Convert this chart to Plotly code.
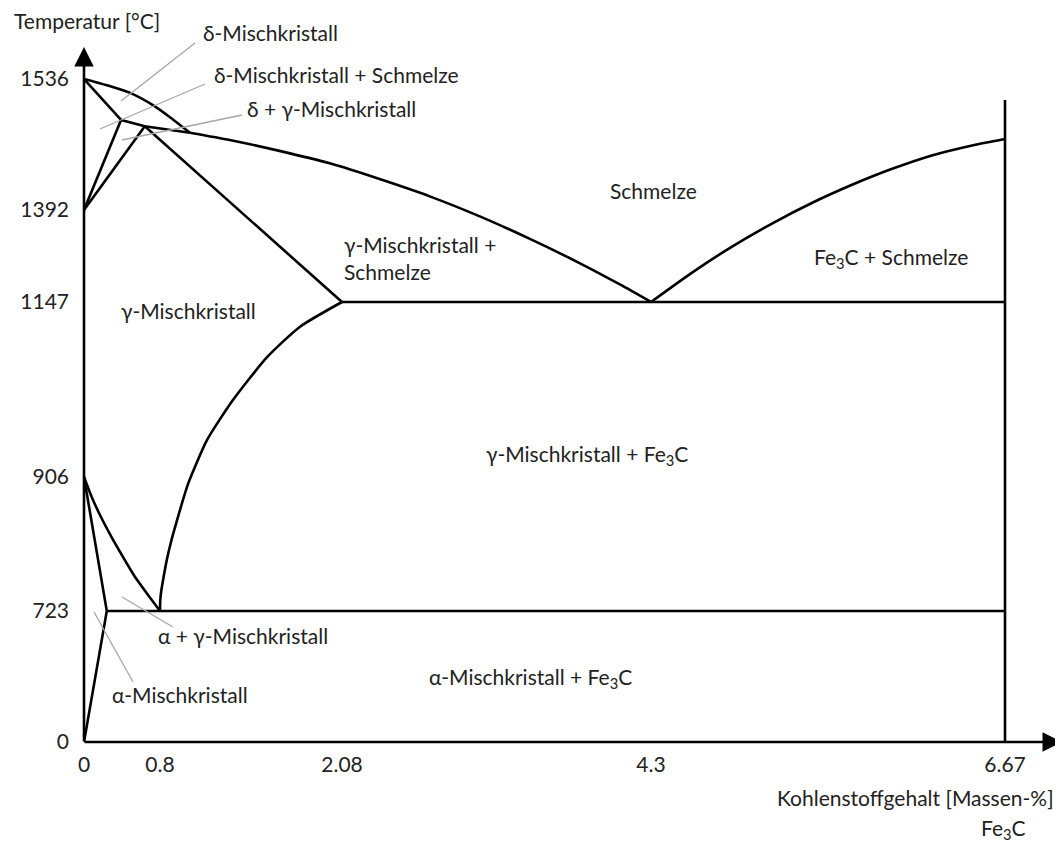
import numpy as np
import plotly.graph_objects as go

# ---- axis ticks (schematic, non-linear scales) ----
C_TICKS = [0, 0.8, 2.08, 4.3, 6.67]
C_TICK_LABELS = ["0", "0.8", "2.08", "4.3", "6.67"]
T_TICKS = [0, 723, 906, 1147, 1392, 1536]
T_TICK_LABELS = ["0", "723", "906", "1147", "1392", "1536"]

# ---- phase boundaries: carbon content [%] and temperature [°C] ----
delta_liquidus_c = [0, 0.31, 0.48, 0.73, 0.87, 1.01]
delta_liquidus_t = [1536, 1527, 1521, 1507, 1494, 1477]
delta_solidus_c = [0, 0.39]
delta_solidus_t = [1536, 1491]
delta_gamma_low_c = [0, 0.39]
delta_gamma_low_t = [1392, 1491]
delta_gamma_up_c = [0, 0.64]
delta_gamma_up_t = [1392, 1484]
peritectic_c = [0.39, 0.64, 1.01]
peritectic_t = [1491, 1484, 1477]
liquidus_left_c = [1.01, 1.29, 1.64, 2.0, 2.35, 2.71, 3.07, 3.43, 3.79, 4.08, 4.3]
liquidus_left_t = [1477, 1469, 1457, 1443, 1426, 1407, 1375, 1315, 1250, 1193, 1147]
solidus_c = [0.64, 2.08]
solidus_t = [1484, 1147]
liquidus_right_c = [4.3, 4.57, 4.84, 5.11, 5.38, 5.65, 5.91, 6.18, 6.45, 6.67]
liquidus_right_t = [1147, 1224, 1294, 1356, 1400, 1420, 1437, 1452, 1463, 1470]
eutectic_c = [2.08, 6.67]
eutectic_t = [1147, 1147]
cementite_c = [6.67, 6.67]
cementite_t = [0, 1513]
acm_c = [2.08, 1.785, 1.553, 1.313, 1.131, 1.0, 0.962, 0.92, 0.881, 0.848, 0.825, 0.81, 0.802, 0.8]
acm_t = [1147, 1113, 1071, 1012, 957, 898, 875, 847, 820, 793, 769, 752, 738, 723]
a3_c = [0, 0.08, 0.18, 0.29, 0.41, 0.54, 0.69, 0.8]
a3_t = [906, 879, 851, 824, 797, 769, 742, 723]
ferrite_c = [0, 0.24, 0]
ferrite_t = [906, 723, 0]
eutectoid_c = [0.24, 6.67]
eutectoid_t = [723, 723]

# ---- layout: schematic scale positions (axis units) ----
X_TICK_POS = [84, 160, 342, 651, 1005]
Y_TICK_POS = [742, 611, 477, 302, 210, 79]
X0, X1 = 84, 1063
Y0, Y1 = 742, 8


def sx(c):
    return np.interp(c, C_TICKS, X_TICK_POS)


def sy(t):
    return np.interp(t, T_TICKS, Y_TICK_POS)


def px(x):
    return (x - X0) / (X1 - X0)


def py(y):
    return (Y0 - y) / (Y0 - Y1)


FONT = "Lato"
FS = 21
TXT = "#222222"
LW = 2.6

fig = go.Figure()

curves = [
    (delta_liquidus_c, delta_liquidus_t, "spline"),
    (delta_solidus_c, delta_solidus_t, "linear"),
    (delta_gamma_low_c, delta_gamma_low_t, "linear"),
    (delta_gamma_up_c, delta_gamma_up_t, "linear"),
    (peritectic_c, peritectic_t, "linear"),
    (liquidus_left_c, liquidus_left_t, "spline"),
    (solidus_c, solidus_t, "linear"),
    (liquidus_right_c, liquidus_right_t, "spline"),
    (eutectic_c, eutectic_t, "linear"),
    (cementite_c, cementite_t, "linear"),
    (acm_c, acm_t, "spline"),
    (a3_c, a3_t, "spline"),
    (ferrite_c, ferrite_t, "linear"),
    (eutectoid_c, eutectoid_t, "linear"),
]
for c, t, shape in curves:
    fig.add_trace(go.Scatter(
        x=sx(c), y=sy(t), mode="lines",
        line=dict(color="black", width=LW, shape=shape, smoothing=0.6),
        cliponaxis=False, showlegend=False, hoverinfo="skip"))

# axes with arrows
fig.add_annotation(x=84, y=47, ax=84, ay=743, xref="x", yref="y", axref="x", ayref="y",
                   text="", showarrow=True, arrowhead=2, arrowsize=1.5, arrowwidth=2.6,
                   arrowcolor="black", standoff=0)
fig.add_annotation(x=1062, y=742, ax=83, ay=742, xref="x", yref="y", axref="x", ayref="y",
                   text="", showarrow=True, arrowhead=2, arrowsize=1.5, arrowwidth=2.6,
                   arrowcolor="black", standoff=0)

# gray leader lines
leaders = [
    ((195, 43), (121, 101)),
    ((205, 84), (100, 129)),
    ((242, 115), (122, 140)),
    ((122, 597), (173, 627)),
    ((94, 612), (133, 682)),
]
for (x0, y0), (x1, y1) in leaders:
    fig.add_shape(type="line", x0=x0, y0=y0, x1=x1, y1=y1, xref="x", yref="y",
                  line=dict(color="#a6a6a6", width=1.3))

labels = [
    ("Temperatur [°C]", 12, 21, "left"),
    ("δ-Mischkristall", 201, 32, "left"),
    ("δ-Mischkristall + Schmelze", 212, 75, "left"),
    ("δ + γ-Mischkristall", 245, 109, "left"),
    ("Schmelze", 653, 190, "center"),
    ("γ-Mischkristall +<br>Schmelze", 342, 258, "left"),
    ("Fe<sub>3</sub>C + Schmelze", 891, 258, "center"),
    ("γ-Mischkristall", 188, 310, "center"),
    ("γ-Mischkristall + Fe<sub>3</sub>C", 587, 455, "center"),
    ("α + γ-Mischkristall", 156, 635, "left"),
    ("α-Mischkristall", 110, 694, "left"),
    ("α-Mischkristall + Fe<sub>3</sub>C", 530, 678, "center"),
    ("Kohlenstoffgehalt [Massen-%]", 1056, 797, "right"),
    ("Fe<sub>3</sub>C", 1003, 829, "center"),
]
for text, x, y, anchor in labels:
    fig.add_annotation(x=px(x), y=py(y), xref="paper", yref="paper", text=text,
                       showarrow=False, xanchor=anchor, yanchor="middle", align=anchor,
                       font=dict(family=FONT, size=FS, color=TXT))

fig.update_layout(
    width=1063, height=835,
    margin=dict(l=76, r=8, t=0, b=101),
    paper_bgcolor="white", plot_bgcolor="white",
    font=dict(family=FONT, size=FS, color=TXT),
    xaxis=dict(range=[X0, X1], tickvals=X_TICK_POS, ticktext=C_TICK_LABELS,
               showgrid=False, zeroline=False, showline=False, ticks="",
               ticklabelstandoff=8, fixedrange=True),
    yaxis=dict(range=[Y0, Y1], tickvals=Y_TICK_POS, ticktext=T_TICK_LABELS,
               showgrid=False, zeroline=False, showline=False, ticks="",
               ticklabelstandoff=14, fixedrange=True),
)

fig.write_html("out.html")
